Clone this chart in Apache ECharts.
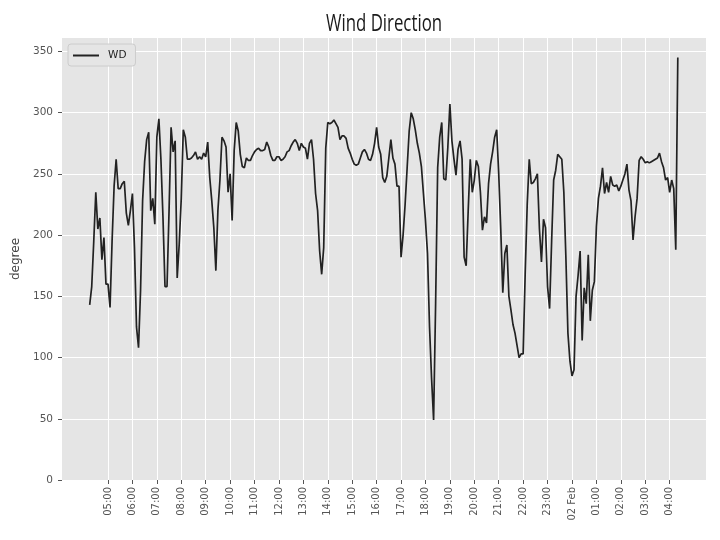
<!DOCTYPE html>
<html><head><meta charset="utf-8">
<script src="https://cdn.jsdelivr.net/npm/echarts@6/dist/echarts.min.js"></script>
<style>html,body{margin:0;padding:0;background:#fff}#c{width:720px;height:540px}</style>
</head><body><div id="c"></div>
<script>
// Time of first sample, in hours after 00:00 on 01 Feb (04:15), and sampling step
const startHour = 4.25;
const stepMinutes = 5;
// Wind direction (degree), one value every 5 minutes from 04:15 (01 Feb) to 04:20 (02 Feb)
const wd = [
  143, 158, 195, 235, 205, 214, 180, 198, 160,
  160, 141, 195, 240, 262, 238, 238, 242, 244, 218, 208, 220,
  234, 190, 125, 108, 155, 228, 260, 278, 284, 220, 230, 209,
  280, 295, 262, 215, 158, 158, 220, 288, 268, 277, 165, 193,
  230, 286, 280, 262, 262, 263, 265, 268, 262, 264, 262, 267,
  264, 276, 247, 228, 206, 171, 220, 245, 280, 277, 272, 235,
  250, 212, 269, 292, 285, 266, 256, 255, 263, 261, 261, 265,
  268, 270, 271, 269, 269, 270, 276, 272, 265, 261, 261, 264,
  264, 261, 262, 264, 268, 269, 273, 276, 278, 275, 269, 275,
  272, 271, 262, 275, 278, 262, 234, 220, 187, 168, 190, 271,
  292, 291, 292, 294, 291, 288, 278, 281, 281, 279, 271, 267,
  262, 258, 257, 258, 263, 268, 270, 267, 262, 261, 266, 275,
  288, 272, 266, 247, 243, 248, 263, 278, 263, 258, 240, 240,
  182, 200, 225, 255, 285, 300, 295, 286, 275, 267, 256, 234,
  212, 185, 125, 83, 49, 145, 255, 280, 292, 246, 245, 272,
  307, 277, 262, 249, 270, 277, 262, 182, 175, 220, 262, 235,
  245, 261, 256, 235, 204, 215, 210, 242, 258, 268, 280, 286,
  250, 205, 153, 185, 192, 150, 139, 127, 120, 110, 100, 103,
  103, 168, 225, 262, 242, 243, 246, 250, 205, 178, 213, 206,
  158, 140, 195, 245, 253, 266, 264, 262, 235, 182, 120, 97,
  85, 90, 150, 167, 187, 114, 157, 144, 184, 130, 155, 162,
  207, 230, 240, 255, 234, 243, 235, 248, 241, 240, 241, 236,
  240, 245, 250, 258, 237, 228, 196, 215, 230, 261, 264, 262,
  259, 260, 259, 260, 261, 262, 263, 267, 260, 255, 245, 247,
  235, 245, 238, 188, 345
];
// Hour ticks (hours after 00:00 on 01 Feb) and their labels
const xTicks = [5,6,7,8,9,10,11,12,13,14,15,16,17,18,19,20,21,22,23,24,25,26,27,28];
const xTickLabels = ['05:00','06:00','07:00','08:00','09:00','10:00','11:00','12:00','13:00','14:00','15:00','16:00','17:00','18:00','19:00','20:00','21:00','22:00','23:00','02 Feb','01:00','02:00','03:00','04:00'];
const yTicks = [0,50,100,150,200,250,300,350];

const times = wd.map((_, i) => startHour + i * stepMinutes / 60);
const seriesData = wd.map((v, i) => [times[i], v]);

const chart = echarts.init(document.getElementById('c'), null, {renderer: 'canvas'});
const tickColor = '#555555';
chart.setOption({
  animation: false,
  backgroundColor: '#ffffff',
  graphic: [{
    type: 'text', x: 384, y: 24, scaleX: 0.7, silent: true,
    style: {
      text: 'Wind Direction', fill: '#1a1a1a',
      font: 'normal 24px "Open Sans", sans-serif',
      align: 'center', verticalAlign: 'middle'
    }
  }],
  legend: {
    data: ['WD'], left: 68, top: 44, orient: 'vertical',
    padding: [6, 9, 5, 5],
    backgroundColor: '#E5E5E5', borderColor: '#CCCCCC', borderWidth: 1, borderRadius: 3,
    itemWidth: 26, itemHeight: 2, icon: 'rect',
    textStyle: {fontFamily: 'DejaVu Sans', fontSize: 10.5, color: '#222222', padding: [0, 0, 0, 4]}
  },
  grid: {left: 62, right: 14, top: 38, bottom: 60, show: true, backgroundColor: '#E5E5E5', borderWidth: 0},
  xAxis: {
    type: 'value', min: 3.116, max: 29.488,
    axisLine: {show: false},
    axisTick: {show: true, length: 4, lineStyle: {color: tickColor}, customValues: xTicks},
    splitLine: {show: true, lineStyle: {color: '#ffffff', width: 1}},
    axisLabel: {
      customValues: xTicks, rotate: 90, margin: 7,
      fontFamily: 'DejaVu Sans', fontSize: 10, color: tickColor,
      formatter: v => xTickLabels[xTicks.indexOf(Math.round(v))] || ''
    }
  },
  yAxis: {
    type: 'value', min: 0, max: 361,
    name: 'degree', nameLocation: 'middle', nameRotate: 90, nameGap: 30,
    nameTextStyle: {fontFamily: 'DejaVu Sans', fontSize: 12, color: '#444444'},
    axisLine: {show: false},
    axisTick: {show: true, length: 4, lineStyle: {color: tickColor}, customValues: yTicks},
    splitLine: {show: true, lineStyle: {color: '#ffffff', width: 1}},
    axisLabel: {customValues: yTicks, margin: 9, fontFamily: 'DejaVu Sans', fontSize: 10.5, color: tickColor}
  },
  series: [{
    name: 'WD', type: 'line', data: seriesData,
    showSymbol: false, symbol: 'none',
    lineStyle: {color: '#222222', width: 1.7},
    itemStyle: {color: '#222222'}
  }]
});
</script></body></html>
